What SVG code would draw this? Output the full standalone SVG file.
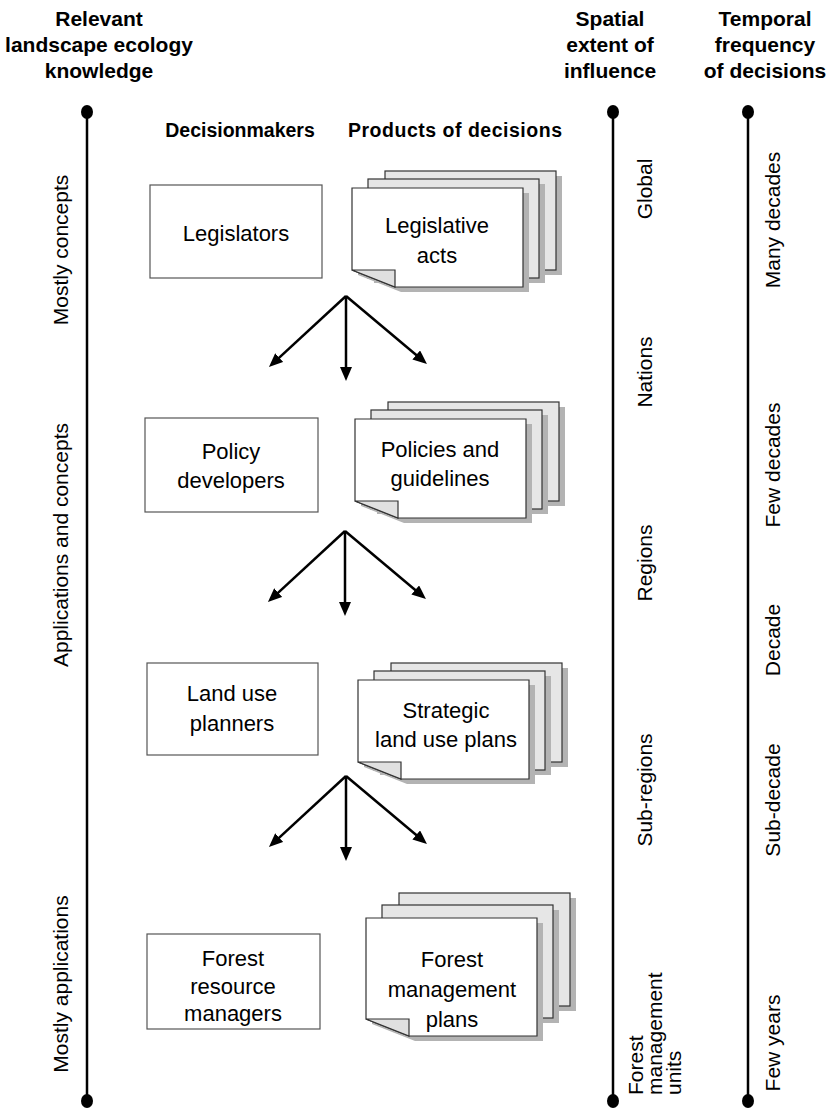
<svg xmlns="http://www.w3.org/2000/svg" xmlns:xlink="http://www.w3.org/1999/xlink" width="828" height="1108" viewBox="0 0 828 1108">
<style>
.hdr{font-family:"Liberation Sans",Arial,sans-serif;font-weight:bold;font-size:21px;fill:#000;text-anchor:middle}
.col{font-family:"Liberation Sans",Arial,sans-serif;font-weight:bold;font-size:19.5px;fill:#000;text-anchor:middle}
.lbl{font-family:"Liberation Sans",Arial,sans-serif;font-size:22px;fill:#000;text-anchor:middle}
.vt{font-family:"Liberation Sans",Arial,sans-serif;font-size:21px;fill:#000;text-anchor:middle}
.vts{font-family:"Liberation Sans",Arial,sans-serif;font-size:21px;fill:#000;text-anchor:start}
.axis{stroke:#000;stroke-width:2.5;fill:none}
.box{fill:#fff;stroke:#555;stroke-width:1.2}
.pg{fill:#e6e6e6;stroke:#333;stroke-width:1.2}
.front{fill:#fff;stroke:#333;stroke-width:1.2}
.fold{fill:#e0e0e0;stroke:#333;stroke-width:1.2}
.sh{fill:#b3b3b3;stroke:none}
.arr{stroke:#000;stroke-width:2.5;fill:none;marker-end:url(#ah)}
</style>
<defs>
<marker id="ah" viewBox="0 0 14 12" refX="7" refY="6" markerWidth="14" markerHeight="12" markerUnits="userSpaceOnUse" orient="auto">
<path d="M0,0 L14,6 L0,12 Z" fill="#000"/>
</marker>
<g id="stack">
<rect class="sh" x="39" y="-12" width="171" height="99"/>
<rect class="pg" x="33" y="-17" width="171" height="99"/>
<rect class="sh" x="22" y="-4" width="171" height="99"/>
<rect class="pg" x="16" y="-9" width="171" height="99"/>
<path class="sh" d="M6,5 H177 V104 H49 L6,87 Z"/>
<path class="front" d="M0,0 H171 V99 H43 L0,82 Z"/>
<path class="fold" d="M0,82 H43 V99 Z"/>
</g>
<g id="stacktall">
<rect class="sh" x="39" y="-20" width="171" height="113"/>
<rect class="pg" x="33" y="-25" width="171" height="113"/>
<rect class="sh" x="22" y="-8" width="171" height="113"/>
<rect class="pg" x="16" y="-13" width="171" height="113"/>
<path class="sh" d="M6,5 H177 V123 H49 L6,106 Z"/>
<path class="front" d="M0,0 H171 V118 H43 L0,101 Z"/>
<path class="fold" d="M0,101 H43 V118 Z"/>
</g>
</defs>
<rect width="828" height="1108" fill="#fff"/>

<g id="headers">
<text class="hdr" x="99" y="26">Relevant</text>
<text class="hdr" x="99" y="52">landscape ecology</text>
<text class="hdr" x="99" y="78">knowledge</text>
<text class="hdr" x="610" y="26">Spatial</text>
<text class="hdr" x="610" y="52">extent of</text>
<text class="hdr" x="610" y="78">influence</text>
<text class="hdr" x="765" y="26">Temporal</text>
<text class="hdr" x="765" y="52">frequency</text>
<text class="hdr" x="765" y="78">of decisions</text>
<text class="col" x="240" y="137">Decisionmakers</text>
<text class="col" x="455" y="137" textLength="214">Products of decisions</text>
</g>

<g id="axes">
<line class="axis" x1="87" y1="112" x2="87" y2="1101"/>
<ellipse cx="87" cy="112" rx="6" ry="7"/>
<ellipse cx="87" cy="1101" rx="6" ry="7"/>
<line class="axis" x1="613" y1="112" x2="613" y2="1101"/>
<ellipse cx="613" cy="112" rx="6" ry="7"/>
<ellipse cx="613" cy="1101" rx="6" ry="7"/>
<line class="axis" x1="748" y1="112" x2="748" y2="1101"/>
<ellipse cx="748" cy="112" rx="6" ry="7"/>
<ellipse cx="748" cy="1101" rx="6" ry="7"/>
</g>

<g id="knowledge-labels">
<text class="vt" transform="translate(68,250) rotate(-90)">Mostly concepts</text>
<text class="vt" transform="translate(68,545) rotate(-90)">Applications and concepts</text>
<text class="vt" transform="translate(68,984) rotate(-90)">Mostly applications</text>
</g>

<g id="spatial-labels">
<text class="vt" transform="translate(652,189) rotate(-90)">Global</text>
<text class="vt" transform="translate(652,372) rotate(-90)">Nations</text>
<text class="vt" transform="translate(652,563) rotate(-90)">Regions</text>
<text class="vt" transform="translate(652,790) rotate(-90)">Sub-regions</text>
<text class="vts" transform="translate(643,1095) rotate(-90)">Forest</text>
<text class="vts" transform="translate(662,1095) rotate(-90)">management</text>
<text class="vts" transform="translate(681,1095) rotate(-90)">units</text>
</g>

<g id="temporal-labels">
<text class="vt" transform="translate(780,220) rotate(-90)">Many decades</text>
<text class="vt" transform="translate(780,465) rotate(-90)">Few decades</text>
<text class="vt" transform="translate(780,640) rotate(-90)">Decade</text>
<text class="vt" transform="translate(780,800) rotate(-90)">Sub-decade</text>
<text class="vt" transform="translate(780,1043) rotate(-90)">Few years</text>
</g>

<g id="legislators">
<rect class="box" x="150" y="185" width="172" height="93"/>
<text class="lbl" x="236" y="241">Legislators</text>
</g>
<g id="legislative-acts">
<use xlink:href="#stack" x="352" y="188"/>
<text class="lbl" x="437" y="233">Legislative</text>
<text class="lbl" x="437" y="263">acts</text>
</g>

<g id="policy-developers">
<rect class="box" x="145" y="418" width="173" height="94"/>
<text class="lbl" x="231" y="459">Policy</text>
<text class="lbl" x="231" y="488">developers</text>
</g>
<g id="policies-guidelines">
<use xlink:href="#stack" x="355" y="419"/>
<text class="lbl" x="440" y="457">Policies and</text>
<text class="lbl" x="440" y="486">guidelines</text>
</g>

<g id="land-use-planners">
<rect class="box" x="147" y="663" width="171" height="92"/>
<text class="lbl" x="232" y="701">Land use</text>
<text class="lbl" x="232" y="731">planners</text>
</g>
<g id="strategic-plans">
<use xlink:href="#stack" x="358" y="680"/>
<text class="lbl" x="446" y="718">Strategic</text>
<text class="lbl" x="446" y="747">land use plans</text>
</g>

<g id="forest-resource-managers">
<rect class="box" x="147" y="934" width="173" height="95"/>
<text class="lbl" x="233" y="966">Forest</text>
<text class="lbl" x="233" y="994">resource</text>
<text class="lbl" x="233" y="1021">managers</text>
</g>
<g id="forest-management-plans">
<use xlink:href="#stacktall" x="366" y="918"/>
<text class="lbl" x="452" y="967">Forest</text>
<text class="lbl" x="452" y="997">management</text>
<text class="lbl" x="452" y="1027">plans</text>
</g>

<g id="connectors">
<line class="arr" x1="346" y1="296" x2="274.1" y2="362.3"/>
<line class="arr" x1="346" y1="296" x2="346" y2="374"/>
<line class="arr" x1="346" y1="296" x2="421.6" y2="359.5"/>
<line class="arr" x1="345" y1="531" x2="273.1" y2="597.3"/>
<line class="arr" x1="345" y1="531" x2="345" y2="609"/>
<line class="arr" x1="345" y1="531" x2="420.6" y2="594.5"/>
<line class="arr" x1="346" y1="776" x2="274.1" y2="842.3"/>
<line class="arr" x1="346" y1="776" x2="346" y2="854"/>
<line class="arr" x1="346" y1="776" x2="421.6" y2="839.5"/>
</g>
</svg>
